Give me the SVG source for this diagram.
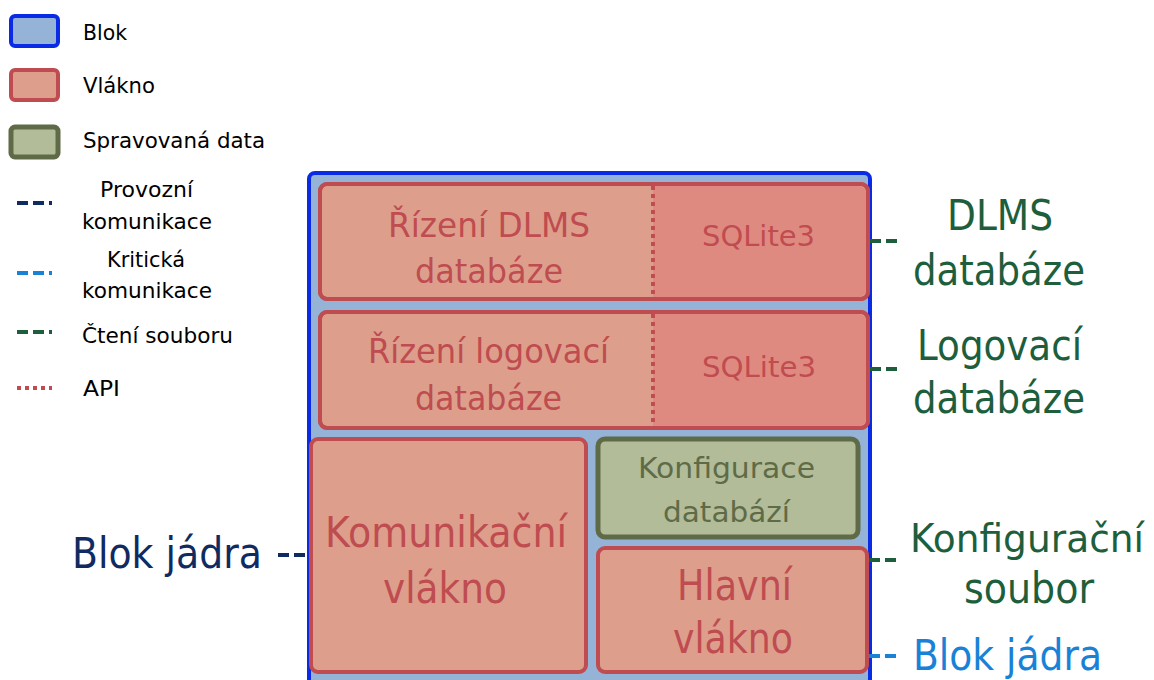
<svg xmlns="http://www.w3.org/2000/svg" width="1154" height="680" viewBox="0 0 1154 680">
  <style>
    text { font-family: "DejaVu Sans", "Liberation Sans", sans-serif; }
    .legend { font-size: 21px; fill: #000; }
    .block { fill: #95b3d7; stroke: #0a2be6; stroke-width: 4; }
    .thread { fill: #dd9f8c; stroke: #bf4c50; stroke-width: 4; }
    .db { fill: #df8a80; }
    .data { fill: #b2bc98; stroke: #5f6b47; stroke-width: 5; }
    .tthread { fill: #bf4c50; }
    .tdata { fill: #5f6b47; font-size: 28px; }
    .mid { font-size: 33px; }
    .big { font-size: 42px; }
    .green { fill: #1d5e3c; }
    .op { stroke: #0f2b61; stroke-width: 4; stroke-dasharray: 11 5; fill: none; }
    .crit { stroke: #1a82d6; stroke-width: 4; stroke-dasharray: 11 5; fill: none; }
    .file { stroke: #1d5e3c; stroke-width: 4; stroke-dasharray: 11 5; fill: none; }
    .api { stroke: #bf4c50; stroke-width: 4; stroke-dasharray: 4 4; fill: none; }
  </style>

  <!-- legend -->
  <g id="legend">
    <rect class="block" x="11" y="16" width="47" height="30" rx="4"/>
    <text class="legend" x="83" y="40" textLength="44" lengthAdjust="spacingAndGlyphs">Blok</text>
    <rect class="thread" x="11" y="70" width="47" height="30" rx="4"/>
    <text class="legend" x="83" y="93" textLength="72" lengthAdjust="spacingAndGlyphs">Vlákno</text>
    <rect class="data" x="11" y="127" width="47" height="30" rx="4"/>
    <text class="legend" x="83" y="148" textLength="182" lengthAdjust="spacingAndGlyphs">Spravovaná data</text>
    <path class="op" d="M17 203 H52" stroke-dasharray="15 5"/>
    <text class="legend" x="100" y="197" textLength="93" lengthAdjust="spacingAndGlyphs">Provozní</text>
    <text class="legend" x="82" y="229" textLength="130" lengthAdjust="spacingAndGlyphs">komunikace</text>
    <path class="crit" d="M17 273 H52" stroke-dasharray="15 5"/>
    <text class="legend" x="107" y="267" textLength="78" lengthAdjust="spacingAndGlyphs">Kritická</text>
    <text class="legend" x="82" y="298" textLength="130" lengthAdjust="spacingAndGlyphs">komunikace</text>
    <path class="file" d="M17 332 H52" stroke-dasharray="15 5"/>
    <text class="legend" x="82" y="343" textLength="151" lengthAdjust="spacingAndGlyphs">Čtení souboru</text>
    <path class="api" d="M17 388 H52"/>
    <text class="legend" x="83" y="396" textLength="37" lengthAdjust="spacingAndGlyphs">API</text>
  </g>

  <!-- kernel block container -->
  <g id="blok">
    <rect class="block" x="309" y="173" width="561" height="520" rx="6"/>
  </g>

  <!-- DLMS database management thread -->
  <g id="dlms-db">
    <rect class="thread" x="320" y="184" width="548" height="115" rx="7"/>
    <path class="db" d="M653 186 H859 a7 7 0 0 1 7 7 V290 a7 7 0 0 1 -7 7 H653 Z"/>
    <rect x="320" y="184" width="548" height="115" rx="7" fill="none" stroke="#bf4c50" stroke-width="4"/>
    <path class="api" d="M653 186 V297" stroke-width="3"/>
    <text class="tthread mid" x="388" y="237" textLength="202" lengthAdjust="spacingAndGlyphs">Řízení DLMS</text>
    <text class="tthread mid" x="415" y="283" textLength="148" lengthAdjust="spacingAndGlyphs">databáze</text>
    <text class="tthread" x="702" y="246" font-size="28" textLength="113" lengthAdjust="spacingAndGlyphs">SQLite3</text>
  </g>

  <!-- logging database management thread -->
  <g id="log-db">
    <rect class="thread" x="320" y="312" width="548" height="116" rx="7"/>
    <path class="db" d="M653 314 H859 a7 7 0 0 1 7 7 V419 a7 7 0 0 1 -7 7 H653 Z"/>
    <rect x="320" y="312" width="548" height="116" rx="7" fill="none" stroke="#bf4c50" stroke-width="4"/>
    <path class="api" d="M653 314 V426" stroke-width="3"/>
    <text class="tthread mid" x="368" y="363" textLength="241" lengthAdjust="spacingAndGlyphs">Řízení logovací</text>
    <text class="tthread mid" x="415" y="410" textLength="147" lengthAdjust="spacingAndGlyphs">databáze</text>
    <text class="tthread" x="702" y="377" font-size="28" textLength="114" lengthAdjust="spacingAndGlyphs">SQLite3</text>
  </g>

  <!-- communication thread -->
  <g id="komunikacni">
    <rect class="thread" x="311" y="439" width="275" height="233" rx="7"/>
    <text class="tthread big" x="325" y="547" textLength="242" lengthAdjust="spacingAndGlyphs">Komunikační</text>
    <text class="tthread big" x="383" y="603" textLength="124" lengthAdjust="spacingAndGlyphs">vlákno</text>
  </g>

  <!-- database configuration (managed data) -->
  <g id="konfigurace">
    <rect class="data" x="598" y="439" width="260" height="98" rx="7"/>
    <text class="tdata" x="638" y="478" textLength="177" lengthAdjust="spacingAndGlyphs">Konfigurace</text>
    <text class="tdata" x="663" y="522" textLength="127" lengthAdjust="spacingAndGlyphs">databází</text>
  </g>

  <!-- main thread -->
  <g id="hlavni">
    <rect class="thread" x="598" y="548" width="269" height="124" rx="7"/>
    <text class="tthread big" x="677" y="600" textLength="115" lengthAdjust="spacingAndGlyphs">Hlavní</text>
    <text class="tthread big" x="673" y="653" textLength="120" lengthAdjust="spacingAndGlyphs">vlákno</text>
  </g>

  <!-- external endpoints -->
  <g id="ext-dlms">
    <text class="big green" x="947" y="230" textLength="106" lengthAdjust="spacingAndGlyphs">DLMS</text>
    <text class="big green" x="913" y="285" textLength="172" lengthAdjust="spacingAndGlyphs">databáze</text>
  </g>
  <g id="ext-log">
    <text class="big green" x="917" y="360" textLength="165" lengthAdjust="spacingAndGlyphs">Logovací</text>
    <text class="big green" x="913" y="413" textLength="172" lengthAdjust="spacingAndGlyphs">databáze</text>
  </g>
  <g id="ext-config">
    <text class="green" x="910" y="552" font-size="39" textLength="234" lengthAdjust="spacingAndGlyphs">Konfigurační</text>
    <text class="big green" x="964" y="603" textLength="130" lengthAdjust="spacingAndGlyphs">soubor</text>
  </g>
  <g id="ext-kernel-crit">
    <text class="big" x="913" y="670" fill="#1a82d6" textLength="189" lengthAdjust="spacingAndGlyphs">Blok jádra</text>
  </g>
  <g id="ext-kernel-op">
    <text class="big" x="72" y="568" fill="#0f2b61" textLength="190" lengthAdjust="spacingAndGlyphs">Blok jádra</text>
  </g>

  <!-- connectors -->
  <g id="connectors">
    <path class="file" d="M870 241 H898"/>
    <path class="file" d="M870 369 H898"/>
    <path class="file" d="M869 560 H898"/>
    <path class="crit" d="M869 656 H898"/>
    <path class="op" d="M278 555 H309"/>
  </g>
</svg>
